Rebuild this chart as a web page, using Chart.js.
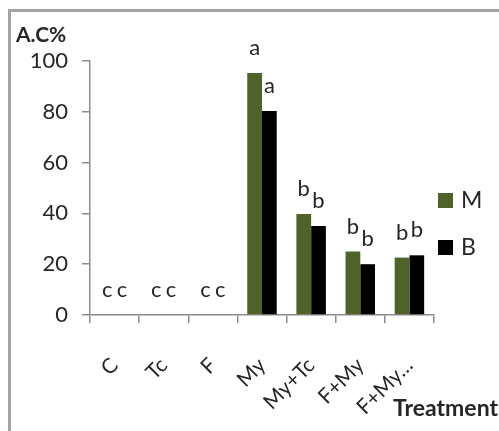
<!DOCTYPE html>
<html>
<head>
<meta charset="utf-8">
<script src="https://cdn.jsdelivr.net/npm/chart.js@4/dist/chart.umd.min.js"></script>
<style>
  html, body { margin: 0; padding: 0; background: #ffffff; }
  #wrap { position: relative; width: 499px; height: 431px; overflow: hidden; }
  #frame { position: absolute; left: 8px; top: 9px; width: 600px; height: 600px;
           border: 3px solid #a3a3a3; box-sizing: border-box; }
  #c { position: absolute; left: 0; top: 0; }
</style>
</head>
<body>
<div id="wrap">
  <div id="frame"></div>
  <canvas id="c" width="499" height="431"></canvas>
</div>
<script>
// Treatments along the x axis
const categories = ['C', 'Tc', 'F', 'My', 'My+Tc', 'F+My', 'F+My\u2026'];
// A.C% per treatment for each series
const seriesM = [0, 0, 0, 95.3, 39.8, 25, 22.6];
const seriesB = [0, 0, 0, 80.3, 35, 20, 23.5];
// Significance letters written above each bar
const lettersM = ['c', 'c', 'c', 'a', 'b', 'b', 'b'];
const lettersB = ['c', 'c', 'c', 'a', 'b', 'b', 'b'];
// Y axis ticks
const yTicks = [0, 20, 40, 60, 80, 100];

const FONT = 'Lato, "Open Sans", sans-serif';
const AXIS = '#8c8c8c';
const TEXT = '#262626';

const letterPlugin = {
  id: 'letters',
  afterDatasetsDraw(chart) {
    const ctx = chart.ctx;
    const sets = [lettersM, lettersB];
    ctx.save();
    ctx.font = '22px ' + FONT;
    ctx.fillStyle = TEXT;
    ctx.textAlign = 'center';
    ctx.textBaseline = 'alphabetic';
    sets.forEach((letters, di) => {
      chart.getDatasetMeta(di).data.forEach((bar, i) => {
        ctx.fillText(letters[i], bar.x, bar.y - 18);
      });
    });
    ctx.restore();
  }
};

const decorPlugin = {
  id: 'decor',
  afterDraw(chart) {
    const ctx = chart.ctx;
    const a = chart.chartArea;
    ctx.save();
    // axis titles
    ctx.fillStyle = TEXT;
    ctx.font = 'bold 21px ' + FONT;
    ctx.textAlign = 'left';
    ctx.textBaseline = 'alphabetic';
    ctx.fillText('A.C%', 16, 42);
    ctx.font = 'bold 23px ' + FONT;
    ctx.textAlign = 'right';
    ctx.fillText('Treatment', 498, 416);
    // legend
    const ds = chart.data.datasets;
    ctx.font = '23px ' + FONT;
    ctx.textAlign = 'left';
    ctx.textBaseline = 'middle';
    ds.forEach((d, i) => {
      const cy = 200 + i * 47;
      ctx.fillStyle = d.backgroundColor;
      ctx.fillRect(a.right + 4, cy - 7, 15, 15);
      ctx.fillStyle = TEXT;
      ctx.fillText(d.label, a.right + 27, cy + 1);
    });
    ctx.restore();
  }
};

new Chart(document.getElementById('c'), {
  type: 'bar',
  data: {
    labels: categories,
    datasets: [
      { label: 'M', data: seriesM, backgroundColor: '#4f6228', borderWidth: 0,
        categoryPercentage: 0.6, barPercentage: 1.0 },
      { label: 'B', data: seriesB, backgroundColor: '#000000', borderWidth: 0,
        categoryPercentage: 0.6, barPercentage: 1.0 }
    ]
  },
  options: {
    responsive: false,
    animation: false,
    devicePixelRatio: 1,
    layout: { padding: { left: 10, top: 61, right: 65, bottom: 0 } },
    plugins: { legend: { display: false }, tooltip: { enabled: false } },
    scales: {
      y: {
        min: 0, max: 100,
        afterFit(s) { s.width = 80; },
        afterBuildTicks(s) { s.ticks = yTicks.map(v => ({ value: v })); },
        border: { display: true, color: AXIS, width: 1.5 },
        grid: { display: true, drawOnChartArea: false, drawTicks: true,
                tickLength: 8, color: AXIS, lineWidth: 1.5 },
        ticks: { padding: 14, color: TEXT, font: { family: FONT, size: 22 } }
      },
      x: {
        afterFit(s) { s.height = 116; },
        border: { display: true, color: AXIS, width: 1.5 },
        grid: { display: true, offset: true, drawOnChartArea: false, drawTicks: true,
                tickLength: 8, color: AXIS, lineWidth: 1.5 },
        ticks: { minRotation: 45, maxRotation: 45, padding: 30, autoSkip: false,
                 color: TEXT, font: { family: FONT, size: 21 } }
      }
    }
  },
  plugins: [letterPlugin, decorPlugin]
});
</script>
</body>
</html>
